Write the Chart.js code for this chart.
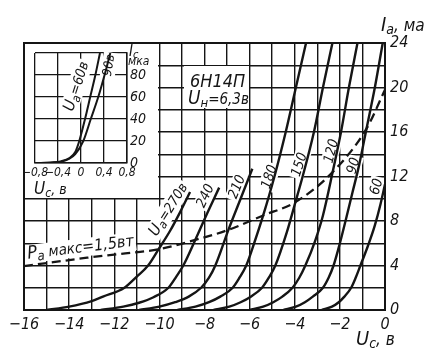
<!DOCTYPE html>
<html lang="ru">
<head>
<meta charset="utf-8">
<title>6Н14П</title>
<script src="https://cdn.jsdelivr.net/npm/chart.js"></script>
<style>
  body { margin: 0; background: #fff; }
  #wrap { position: relative; width: 445px; height: 352px; }
  #main { position: absolute; left: 0; top: 0; }
  #inset { position: absolute; left: 25px; top: 44px; }
</style>
</head>
<body>
<div id="wrap">
  <canvas id="main" width="445" height="352"></canvas>
  <canvas id="inset" width="133" height="154"></canvas>
</div>
<script>
// anode curves Ia(Uc) for each Ua
const uaValues = [270, 240, 210, 180, 150, 120, 90, 60];
const ugPoints = [
  [-15.0, -14.0, -13.0, -12.5, -11.55, -11.0, -10.5, -10.04, -9.53, -9.08, -8.64],
  [-12.6, -11.6, -10.9, -10.26, -9.6, -9.25, -8.94, -8.41, -7.9, -7.35],
  [-10.9, -10.0, -9.3, -8.7, -8.15, -7.8, -7.52, -6.94, -6.4, -5.88],
  [-9.2, -8.4, -7.8, -7.3, -6.75, -6.45, -6.15, -5.8, -5.4, -4.9, -4.4, -3.95, -3.5],
  [-7.6, -6.9, -6.4, -5.95, -5.45, -5.15, -4.86, -4.35, -3.97, -3.65, -3.15, -2.75, -2.33],
  [-6.0, -5.4, -4.95, -4.55, -4.1, -3.8, -3.53, -3.1, -2.75, -2.32, -1.95, -1.6, -1.22],
  [-4.5, -3.95, -3.55, -3.2, -2.75, -2.5, -2.28, -2.0, -1.75, -1.45, -1.15, -0.82, -0.45, -0.1],
  [-2.8, -2.35, -2.05, -1.8, -1.5, -1.3, -1.09, -0.75, -0.45, -0.2, 0]
];
const iaPoints = [
  [0, 0.3, 0.8, 1.2, 2.0, 3.0, 4.0, 5.45, 7.1, 8.8, 10.6],
  [0, 0.3, 0.65, 1.15, 2.0, 3.0, 4.0, 6.3, 8.6, 11.0],
  [0, 0.3, 0.7, 1.2, 2.0, 2.9, 4.0, 7.2, 10.0, 12.7],
  [0, 0.3, 0.7, 1.2, 2.0, 2.9, 4.0, 6.0, 8.5, 12.0, 16.0, 20.0, 24.0],
  [0, 0.3, 0.7, 1.2, 2.0, 2.9, 4.0, 7.0, 9.7, 12.0, 16.0, 20.0, 24.0],
  [0, 0.3, 0.7, 1.2, 2.0, 2.9, 4.0, 6.2, 8.5, 12.4, 16.0, 20.0, 24.0],
  [0, 0.3, 0.7, 1.2, 2.0, 2.9, 4.0, 6.0, 8.0, 10.5, 13.0, 16.3, 20.0, 24.0],
  [0, 0.3, 0.7, 1.2, 2.0, 2.9, 4.0, 5.8, 7.6, 9.5, 11.3]
];
// Pa max = 1.5 W line
const paUg = [-16, -14.7, -13.2, -11.7, -10.04, -8.41, -6.94, -5.4, -3.97, -2.32, -0.82, 0];
const paIa = [3.95, 4.3, 4.7, 5.05, 5.45, 6.3, 7.2, 8.5, 9.7, 12.4, 16.3, 19.8];

const xTicks = [-16, -15, -14, -13, -12, -11, -10, -9, -8, -7, -6, -5, -4, -3, -2, -1, 0];
const yTicks = [0, 2, 4, 6, 8, 10, 12, 14, 16, 18, 20, 22, 24];

// inset: grid current Ic (мка)
const insetUa = [60, 90];
const insetUg = [
  [-0.8, -0.5, -0.35, -0.2, -0.1, -0.03, 0.07, 0.16, 0.25, 0.33],
  [-0.8, -0.5, -0.35, -0.2, -0.1, 0.04, 0.17, 0.3, 0.41, 0.51]
];
const insetIc = [
  [0, 0.5, 1.5, 4.5, 10, 20, 40, 60, 80, 100],
  [0, 0.4, 1.2, 4, 8, 20, 40, 60, 80, 100]
];
const insetXTicks = [-0.8, -0.4, 0, 0.4, 0.8];
const insetYTicks = [0, 20, 40, 60, 80, 100];

const FONT = '"Liberation Sans Narrow", "DejaVu Sans Condensed", sans-serif';
const INK = '#151515';

function fmt(v, dec) {
  if (v === 0) return '0';
  const s = Math.abs(v).toFixed(dec).replace('.', ',');
  return (v < 0 ? '−' : '') + s;
}

// text made of pieces: [text, size, dy]
function drawRich(ctx, x, y, parts, opt) {
  opt = opt || {};
  ctx.save();
  ctx.translate(x, y);
  if (opt.angle) ctx.rotate(opt.angle * Math.PI / 180);
  let w = 0;
  parts.forEach(p => { ctx.font = 'italic ' + p[1] + 'px ' + FONT; w += ctx.measureText(p[0]).width; });
  const h = opt.h || parts[0][1];
  let cx = opt.center ? -w / 2 : 0;
  const by = opt.center ? h * 0.36 : 0;
  if (opt.bg) {
    ctx.fillStyle = '#fff';
    ctx.fillRect(cx - 2, by - h * 0.85, w + 4, h + 2);
  }
  ctx.fillStyle = INK;
  ctx.textBaseline = 'alphabetic';
  parts.forEach(p => {
    ctx.font = 'italic ' + p[1] + 'px ' + FONT;
    ctx.fillText(p[0], cx, by + (p[2] || 0));
    cx += ctx.measureText(p[0]).width;
  });
  ctx.restore();
}

// no extra room for the end labels, the plot box is placed by hand
function noPad(s) {
  s.paddingLeft = 0; s.paddingRight = 0; s.paddingTop = 0; s.paddingBottom = 0;
}

// curve labels: value position in chart units + angle
const curveLabels = [
  { parts: [['U', 16], ['a', 12, 3], ['=270в', 14]], ug: -9.65, ia: 9.1, a: -58 },
  { parts: [['240', 14]], ug: -8.0, ia: 10.3, a: -65 },
  { parts: [['210', 14]], ug: -6.6, ia: 11.1, a: -68 },
  { parts: [['180', 14]], ug: -5.17, ia: 12.0, a: -72 },
  { parts: [['150', 14]], ug: -3.84, ia: 13.1, a: -72 },
  { parts: [['120', 14]], ug: -2.42, ia: 14.3, a: -75 },
  { parts: [['90', 14]], ug: -1.44, ia: 13.0, a: -75 },
  { parts: [['60', 14]], ug: -0.42, ia: 11.1, a: -75 }
];

const mainText = {
  id: 'mainText',
  beforeDatasetsDraw(chart) {
    const ctx = chart.ctx, xs = chart.scales.x, ys = chart.scales.y;
    // tube name box
    ctx.fillStyle = '#fff';
    ctx.fillRect(184, 66, 65, 42);
    drawRich(ctx, 190, 87, [['6Н14П', 18]]);
    drawRich(ctx, 188, 104, [['U', 19], ['н', 13, 3], ['=6,3в', 15]]);
    curveLabels.forEach(l => {
      drawRich(ctx, xs.getPixelForValue(l.ug), ys.getPixelForValue(l.ia), l.parts, { center: true, angle: l.a, bg: true });
    });
    drawRich(ctx, xs.getPixelForValue(-13.5), ys.getPixelForValue(5.7),
      [['P', 18], ['a', 13, 3], [' макс', 15], ['=1,5вт', 16]], { center: true, angle: -7, bg: true, h: 16 });
  },
  afterDraw(chart) {
    const ctx = chart.ctx, a = chart.chartArea;
    ctx.save();
    ctx.strokeStyle = INK;
    ctx.lineWidth = 2;
    ctx.strokeRect(a.left, a.top, a.right - a.left, a.bottom - a.top);
    ctx.restore();
    drawRich(ctx, 381, 31, [['I', 20], ['a', 14, 3], [', ма', 17]]);
    drawRich(ctx, 356, 345, [['U', 20], ['c', 14, 3], [', в', 17]]);
  }
};

const mainSets = uaValues.map((ua, k) => ({
  label: 'Ua=' + ua,
  data: ugPoints[k].map((u, j) => ({ x: u, y: iaPoints[k][j] })),
  showLine: true,
  borderColor: INK,
  borderWidth: 2.4,
  pointRadius: 0,
  cubicInterpolationMode: 'monotone'
}));
mainSets.push({
  label: 'Pa max',
  data: paUg.map((u, j) => ({ x: u, y: paIa[j] })),
  showLine: true,
  borderColor: INK,
  borderWidth: 2.3,
  borderDash: [9, 5],
  pointRadius: 0,
  cubicInterpolationMode: 'monotone'
});

new Chart(document.getElementById('main'), {
  type: 'scatter',
  data: { datasets: mainSets },
  options: {
    responsive: false,
    animation: false,
    events: [],
    layout: { padding: { left: 24, top: 43, right: 0, bottom: 0 } },
    plugins: { legend: { display: false }, tooltip: { enabled: false } },
    scales: {
      x: {
        type: 'linear', min: -16, max: 0,
        afterBuildTicks: s => { s.ticks = xTicks.map(v => ({ value: v })); },
        afterFit: s => { s.height = 42; noPad(s); },
        ticks: {
          autoSkip: false, maxRotation: 0, padding: 5, color: INK,
          font: { family: FONT, size: 16, style: 'italic' },
          callback: v => (v % 2 === 0 ? fmt(v, 0) : '')
        },
        grid: { color: INK, lineWidth: 1.4, drawTicks: false },
        border: { color: INK, width: 2 }
      },
      y: {
        type: 'linear', min: 0, max: 24, position: 'right',
        afterBuildTicks: s => { s.ticks = yTicks.map(v => ({ value: v })); },
        afterFit: s => { s.width = 60; noPad(s); },
        ticks: {
          autoSkip: false, padding: 5, color: INK,
          font: { family: FONT, size: 16, style: 'italic' },
          callback: v => (v % 4 === 0 ? String(v) : '')
        },
        grid: { color: INK, lineWidth: 1.4, drawTicks: false },
        border: { color: INK, width: 2 }
      }
    }
  },
  plugins: [mainText]
});

const insetText = {
  id: 'insetText',
  beforeDraw(chart) {
    const ctx = chart.ctx;
    ctx.save();
    ctx.fillStyle = '#fff';
    ctx.fillRect(0, 0, chart.width, chart.height);
    ctx.restore();
  },
  beforeDatasetsDraw(chart) {
    const ctx = chart.ctx, xs = chart.scales.x, ys = chart.scales.y;
    drawRich(ctx, xs.getPixelForValue(-0.1), ys.getPixelForValue(70),
      [['U', 16], ['a', 12, 3], ['=60в', 14]], { center: true, angle: -72, bg: true });
    drawRich(ctx, xs.getPixelForValue(0.47), ys.getPixelForValue(89),
      [['90в', 13]], { center: true, angle: -80, bg: true });
  },
  afterDraw(chart) {
    const ctx = chart.ctx;
    drawRich(ctx, 104, 12, [['I', 15], ['c', 11, 2]]);
    drawRich(ctx, 103, 21, [['мка', 12]]);
    drawRich(ctx, 9, 150, [['U', 17], ['c', 12, 3], [', в', 14]]);
  }
};

new Chart(document.getElementById('inset'), {
  type: 'scatter',
  data: {
    datasets: insetUa.map((ua, k) => ({
      label: 'Ua=' + ua,
      data: insetUg[k].map((u, j) => ({ x: u, y: insetIc[k][j] })),
      showLine: true,
      borderColor: INK,
      borderWidth: 2,
      pointRadius: 0,
      cubicInterpolationMode: 'monotone'
    }))
  },
  options: {
    responsive: false,
    animation: false,
    events: [],
    layout: { padding: { left: 10, top: 9, right: 0, bottom: 0 } },
    plugins: { legend: { display: false }, tooltip: { enabled: false } },
    scales: {
      x: {
        type: 'linear', min: -0.8, max: 0.8,
        afterBuildTicks: s => { s.ticks = insetXTicks.map(v => ({ value: v })); },
        afterFit: s => { s.height = 35; noPad(s); },
        ticks: {
          autoSkip: false, maxRotation: 0, padding: 3, color: INK,
          font: { family: FONT, size: 12, style: 'italic' },
          callback: v => fmt(v, 1)
        },
        grid: { color: INK, lineWidth: 1.3, drawTicks: false },
        border: { color: INK, width: 1.5 }
      },
      y: {
        type: 'linear', min: 0, max: 100, position: 'right',
        afterBuildTicks: s => { s.ticks = insetYTicks.map(v => ({ value: v })); },
        afterFit: s => { s.width = 31; noPad(s); },
        ticks: {
          autoSkip: false, padding: 3, color: INK,
          font: { family: FONT, size: 14, style: 'italic' },
          callback: v => (v === 100 ? '' : String(v))
        },
        grid: { color: INK, lineWidth: 1.3, drawTicks: false },
        border: { color: INK, width: 1.5 }
      }
    }
  },
  plugins: [insetText]
});
</script>
</body>
</html>
